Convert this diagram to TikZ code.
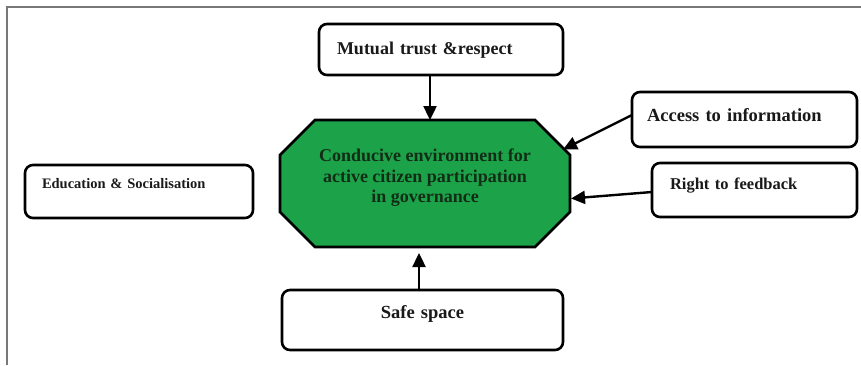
\documentclass[tikz,border=0pt]{standalone}
\usepackage{fontspec}
\setmainfont{Liberation Serif}
\usetikzlibrary{arrows.meta,calc}
\definecolor{octgreen}{RGB}{28,163,74}
\definecolor{octtext}{RGB}{18,45,22}
\definecolor{framegray}{RGB}{120,120,120}
\definecolor{txt}{RGB}{25,25,25}
\begin{document}
\begin{tikzpicture}[x=1pt,y=-1pt,
  box/.style={draw=black, line width=2.6pt, rounded corners=8pt, fill=white, inner sep=0pt, outer sep=0pt, text=txt, align=left, anchor=north west},
  arr/.style={line width=2.4pt, -{Triangle[length=14pt,width=13pt]}},
  octline/.style={draw=black, line width=2.6pt, fill=octgreen, line join=miter}
]
\useasboundingbox (0,0) rectangle (861,365);
\fill[white] (0,0) rectangle (861,365);
\draw[framegray, line width=1.5pt] (7,365) -- (7,7) -- (861,7);

% central octagon
\node[minimum width=290pt, minimum height=127pt, inner sep=0pt, outer sep=0pt] (oct) at (425,183.5) {};
\draw[octline] ($(oct.north west)+(35,0)$) -- ($(oct.north east)+(-35,0)$) -- ($(oct.north east)+(0,35)$) -- ($(oct.south east)+(0,-35)$) -- ($(oct.south east)+(-35,0)$) -- ($(oct.south west)+(35,0)$) -- ($(oct.south west)+(0,-35)$) -- ($(oct.north west)+(0,35)$) -- cycle;
\node[align=center, text=octtext, font=\bfseries\fontsize{18}{20.5}\selectfont] (octlabel) at ($(oct.center)+(0,-5.5)$) {Conducive environment for\\active citizen participation\\in governance};

% boxes
\node[box, minimum width=244pt, minimum height=51pt, text width=208pt, text height=12pt, text depth=3pt, font=\bfseries\fontsize{18}{20}\selectfont] (mt) at (319,24) {Mutual trust \&respect};
\node[box, minimum width=225pt, minimum height=55pt, text width=195pt, text height=12pt, text depth=9pt, font=\bfseries\fontsize{18.5}{20}\selectfont] (acc) at (632,92) {Access to information};
\node[box, minimum width=205pt, minimum height=54pt, text width=169pt, text height=11pt, text depth=13pt, font=\bfseries\fontsize{16.5}{20}\selectfont] (fb) at (652,163) {Right to feedback};
\node[box, minimum width=228pt, minimum height=53pt, text width=194pt, text height=10pt, text depth=17pt, font=\bfseries\fontsize{14.5}{18}\selectfont] (edu) at (25,165) {Education \& Socialisation};
\node[box, align=center, minimum width=281pt, minimum height=60pt, text width=260pt, text height=12pt, text depth=16pt, font=\bfseries\fontsize{18.5}{20}\selectfont] (ss) at (282,290) {Safe space};

% connectors
\draw[arr] ($(mt.south)+(-11,0)$) -- ($(oct.north)+(5,0)$);
\draw[arr] ($(acc.west)+(0,-4.5)$) -- ($(oct.east)+(-7,-34)$);
\draw[arr] ($(fb.west)+(0,2)$) -- ($(oct.east)+(1,15)$);
\draw[arr] ($(ss.north)+(-3.5,0)$) -- ($(oct.south)+(-6,6)$);
\end{tikzpicture}
\end{document}
